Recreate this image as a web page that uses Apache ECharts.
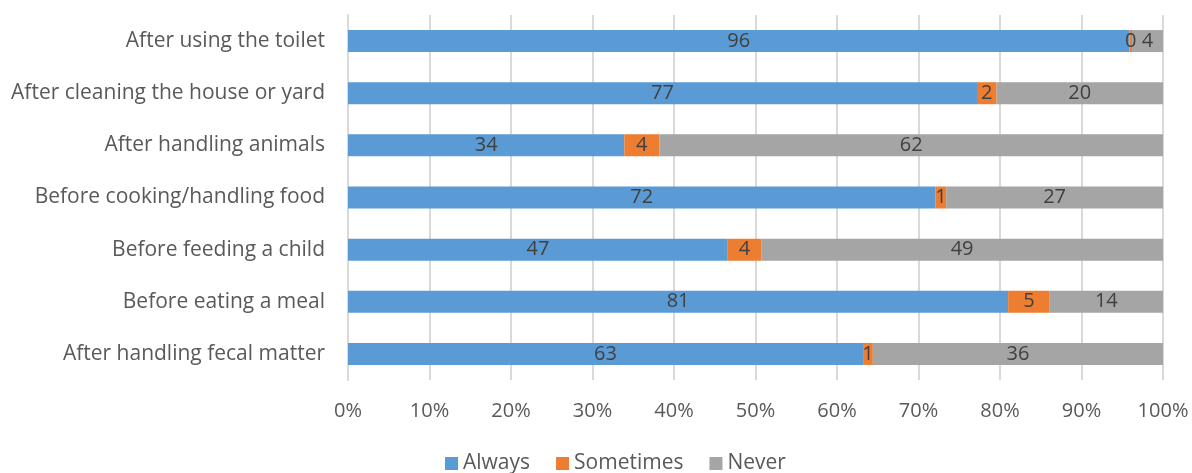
<!DOCTYPE html>
<html>
<head>
<meta charset="utf-8">
<script src="https://cdn.jsdelivr.net/npm/echarts@6/dist/echarts.min.js"></script>
<style>
html,body{margin:0;padding:0;background:#fff;}
#chart{width:1192px;height:473px;}
</style>
</head>
<body>
<div id="chart"></div>
<script>
const categories = [
  "After using the toilet",
  "After cleaning the house or yard",
  "After handling animals",
  "Before cooking/handling food",
  "Before feeding a child",
  "Before eating a meal",
  "After handling fecal matter"
];
const always    = [95.9, 77.1, 33.9, 72.1, 46.6, 81.0, 63.2];
const sometimes = [0.3,  2.4,  4.3,  1.3,  4.1,  5.1,  1.2];
const never     = [3.8,  20.4, 61.8, 26.6, 49.3, 13.9, 35.6];
const seriesNames = ["Always", "Sometimes", "Never"];
const colors = ["#5B9BD5", "#ED7D31", "#A5A5A5"];

const raw = [always, sometimes, never];
const totals = categories.map((_, i) => always[i] + sometimes[i] + never[i]);

const FONT = "Open Sans";
const chart = echarts.init(document.getElementById('chart'), null, {renderer: 'canvas'});
chart.setOption({
  animation: false,
  textStyle: {fontFamily: FONT},
  grid: {left: 348, right: 29, top: 15, bottom: 93, containLabel: false},
  xAxis: {
    type: 'value', min: 0, max: 100, interval: 10,
    axisLabel: {formatter: '{value}%', color: '#595959', fontSize: 20, fontFamily: FONT, margin: 21},
    splitLine: {show: true, lineStyle: {color: '#d9d9d9', width: 2}},
    axisLine: {show: false}, axisTick: {show: false}
  },
  yAxis: {
    type: 'category', data: categories, inverse: true,
    axisLabel: {color: '#595959', fontSize: 21, fontFamily: FONT, margin: 23},
    axisLine: {show: true, lineStyle: {color: '#d9d9d9', width: 2}},
    axisTick: {show: false}
  },
  legend: {
    bottom: -6, left: 440, icon: 'rect', itemWidth: 13, itemHeight: 13, itemGap: 26, itemTextGap: 4,
    textStyle: {color: '#595959', fontSize: 21, fontFamily: FONT},
    data: seriesNames
  },
  series: seriesNames.map((name, s) => ({
    name: name, type: 'bar', stack: 'total', barWidth: 22,
    itemStyle: {color: colors[s]},
    label: {
      show: true, position: 'inside', color: '#404040', fontSize: 20, fontFamily: FONT,
      formatter: p => String(Math.round(raw[s][p.dataIndex]))
    },
    data: raw[s].map((v, i) => v / totals[i] * 100)
  }))
});
</script>
</body>
</html>
